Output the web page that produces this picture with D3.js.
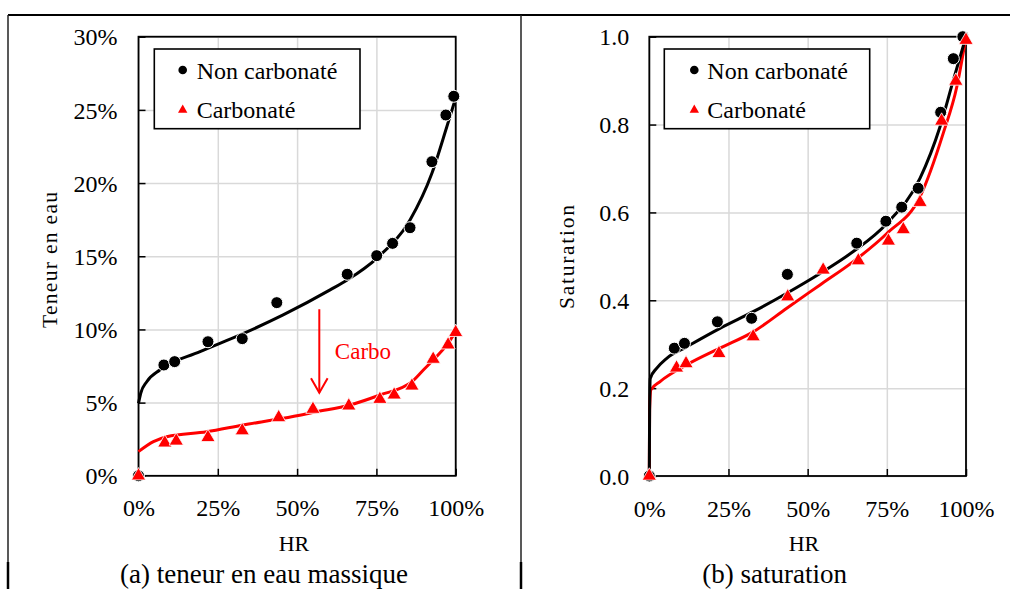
<!DOCTYPE html>
<html><head><meta charset="utf-8">
<script src="https://cdn.jsdelivr.net/npm/d3@7"></script>
<style>
body{margin:0;background:#fff}
svg{display:block}
text{font-family:"Liberation Serif","Times New Roman",serif;fill:#000}
</style>
</head><body>
<svg id="c" width="1016" height="589"></svg>
<script>
// ---------- data ----------
const seriesNames = ["Non carbonaté", "Carbonaté"];
const hrTicks = [0, 0.25, 0.5, 0.75, 1];
const wTicks = [0, 0.05, 0.10, 0.15, 0.20, 0.25, 0.30];
const sTicks = [0, 0.2, 0.4, 0.6, 0.8, 1.0];
const captions = ["(a) teneur en eau massique", "(b) saturation"];
const xTitle = "HR";
const yTitles = ["Teneur en eau", "Saturation"];
const annotText = "Carbo";

// (a) teneur en eau massique – measured points
const aNonHR = [0, 0.080, 0.114, 0.219, 0.327, 0.436, 0.658, 0.751, 0.801, 0.856, 0.925, 0.969, 0.994];
const aNonW  = [0, 0.0757, 0.078, 0.0916, 0.0937, 0.1183, 0.1377, 0.1504, 0.1588, 0.1695, 0.2146, 0.2465, 0.2593];
const aCarHR = [0, 0.083, 0.119, 0.219, 0.327, 0.442, 0.550, 0.663, 0.761, 0.806, 0.862, 0.929, 0.976, 1.0];
const aCarW  = [0, 0.0225, 0.0238, 0.0262, 0.0308, 0.0398, 0.0455, 0.0478, 0.0523, 0.0553, 0.0614, 0.0797, 0.0895, 0.098];
// (a) fitted curves
const aNonFitHR = [0, 0.007, 0.026, 0.067, 0.194, 0.320, 0.456, 0.604, 0.658, 0.751, 0.856, 0.925, 0.972, 0.998];
const aNonFitW  = [0.0495, 0.0564, 0.0643, 0.0723, 0.0848, 0.0962, 0.1099, 0.127, 0.1338, 0.1486, 0.1748, 0.2067, 0.2385, 0.2568];
const aCarFitHR = [0, 0.047, 0.089, 0.215, 0.330, 0.456, 0.562, 0.667, 0.761, 0.862, 0.898, 0.929, 0.972, 1.0];
const aCarFitW  = [0.0165, 0.0233, 0.0267, 0.0301, 0.0347, 0.0393, 0.0438, 0.0484, 0.0552, 0.0643, 0.0723, 0.0791, 0.0894, 0.0985];

// (b) saturation – measured points
const bNonHR = [0, 0.079, 0.111, 0.215, 0.323, 0.436, 0.655, 0.747, 0.797, 0.849, 0.920, 0.960, 0.990];
const bNonS  = [0, 0.291, 0.302, 0.351, 0.359, 0.459, 0.530, 0.580, 0.612, 0.655, 0.828, 0.950, 1.0];
const bCarHR = [0, 0.086, 0.116, 0.220, 0.328, 0.437, 0.549, 0.660, 0.755, 0.802, 0.855, 0.923, 0.968, 1.0];
const bCarS  = [0, 0.246, 0.256, 0.279, 0.317, 0.408, 0.469, 0.490, 0.535, 0.561, 0.623, 0.808, 0.899, 0.992];
// (b) fitted curves
const bNonFitHR = [0, 0.001, 0.003, 0.023, 0.055, 0.118, 0.223, 0.328, 0.434, 0.539, 0.644, 0.750, 0.855, 0.918, 0.960, 1.0];
const bNonFitS  = [0, 0.15, 0.222, 0.245, 0.268, 0.294, 0.336, 0.374, 0.416, 0.461, 0.511, 0.575, 0.678, 0.795, 0.901, 1.0];
const bCarFitHR = [0, 0.001, 0.005, 0.034, 0.118, 0.223, 0.328, 0.434, 0.539, 0.644, 0.750, 0.855, 0.928, 0.971, 1.0];
const bCarFitS  = [0, 0.15, 0.196, 0.215, 0.253, 0.291, 0.328, 0.382, 0.435, 0.488, 0.552, 0.636, 0.780, 0.886, 1.0];

// annotation arrow (data coords in panel a)
const arrowHR = 0.57, arrowFrom = 0.1138, arrowTo = 0.0568;
const annotHR = 0.619, annotW = 0.0796;

// ---------- drawing ----------
const svg = d3.select("#c");
const zip = (xs, ys) => xs.map((x, i) => [x, ys[i]]);
const RED = "#ff0000";

// outer frame (table cell lines)
const frame = svg.append("g");
frame.append("line").attr("x1", 8).attr("x2", 1010).attr("y1", 15).attr("y2", 15).attr("stroke", "#000").attr("stroke-width", 2);
[8, 521].forEach(x => {
  frame.append("line").attr("x1", x).attr("x2", x).attr("y1", 15).attr("y2", 562).attr("stroke", "#222").attr("stroke-width", 1.5);
  frame.append("line").attr("x1", x).attr("x2", x).attr("y1", 562).attr("y2", 589).attr("stroke", "#000").attr("stroke-width", 2.5);
});

function panel(cfg) {
  const g = svg.append("g");
  const x = d3.scaleLinear().domain([0, 1]).range(cfg.xr);
  const y = d3.scaleLinear().domain(cfg.ydom).range(cfg.yr);
  const w = cfg.xr[1] - cfg.xr[0], h = cfg.yr[0] - cfg.yr[1];

  // gridlines
  g.append("g").attr("transform", `translate(0,${cfg.yr[0]})`)
    .call(d3.axisBottom(x).tickValues(hrTicks).tickSize(-h).tickFormat(""))
    .call(s => { s.select(".domain").remove(); s.selectAll("line").attr("stroke", "#d9d9d9").attr("stroke-width", 1.5); });
  g.append("g").attr("transform", `translate(${cfg.xr[0]},0)`)
    .call(d3.axisLeft(y).tickValues(cfg.yticks).tickSize(-w).tickFormat(""))
    .call(s => { s.select(".domain").remove(); s.selectAll("line").attr("stroke", "#d9d9d9").attr("stroke-width", 1.5); });

  // plot border
  g.append("rect").attr("x", cfg.xr[0]).attr("y", cfg.yr[1]).attr("width", w).attr("height", h)
    .attr("fill", "none").attr("stroke", "#000").attr("stroke-width", 1.8);

  // axes with inward ticks
  const ax = g.append("g").attr("transform", `translate(0,${cfg.yr[0]})`)
    .call(d3.axisBottom(x).tickValues(hrTicks).tickSize(-7).tickPadding(23.5).tickFormat(d3.format(".0%")));
  ax.select(".domain").remove();
  ax.selectAll("line").attr("stroke", "#000").attr("stroke-width", 1.5);
  ax.selectAll("text").attr("font-size", 24).style("font-family", "Liberation Serif");
  const ay = g.append("g").attr("transform", `translate(${cfg.xr[0]},0)`)
    .call(d3.axisLeft(y).tickValues(cfg.yticks).tickSize(-7).tickPadding(cfg.ypad).tickFormat(cfg.yfmt));
  ay.select(".domain").remove();
  ay.selectAll("line").attr("stroke", "#000").attr("stroke-width", 1.5);
  ay.selectAll("text").attr("font-size", 24).attr("dy", "0.34em").style("font-family", "Liberation Serif");
  g.selectAll(".tick text").attr("fill", "#000");

  // fitted curves
  const line = d3.line().x(d => x(d[0])).y(d => y(d[1])).curve(d3.curveMonotoneX);
  g.append("path").datum(zip(cfg.carFit[0], cfg.carFit[1])).attr("d", line)
    .attr("fill", "none").attr("stroke", RED).attr("stroke-width", 3);
  g.append("path").datum(zip(cfg.nonFit[0], cfg.nonFit[1])).attr("d", line)
    .attr("fill", "none").attr("stroke", "#000").attr("stroke-width", 3);

  // markers
  g.append("g").selectAll("circle").data(zip(cfg.non[0], cfg.non[1])).join("circle")
    .attr("cx", d => x(d[0])).attr("cy", d => y(d[1])).attr("r", 6)
    .attr("fill", "#000").attr("stroke", "#fff").attr("stroke-width", 1);
  const tri = d3.symbol(d3.symbolTriangle).size(88);
  g.append("g").selectAll("path").data(zip(cfg.car[0], cfg.car[1])).join("path")
    .attr("d", tri).attr("transform", d => `translate(${x(d[0])},${y(d[1])})`)
    .attr("fill", RED).attr("stroke", "#fff").attr("stroke-width", 0.8);

  // legend
  const L = cfg.legend;
  g.append("rect").attr("x", L[0]).attr("y", 49).attr("width", L[1]).attr("height", 79.7)
    .attr("fill", "#fff").attr("stroke", "#000").attr("stroke-width", 1.6);
  g.append("circle").attr("cx", L[0] + L[2]).attr("cy", 70).attr("r", 4.3).attr("fill", "#000");
  g.append("path").attr("d", d3.symbol(d3.symbolTriangle).size(38)())
    .attr("transform", `translate(${L[0] + L[2]},${110})`).attr("fill", RED);
  g.append("text").attr("x", L[0] + L[3]).attr("y", 78.5).attr("font-size", 24).text(seriesNames[0]);
  g.append("text").attr("x", L[0] + L[3]).attr("y", 117.5).attr("font-size", 24).text(seriesNames[1]);

  // titles
  g.append("text").attr("x", cfg.xtitleX).attr("y", 551).attr("text-anchor", "middle")
    .attr("font-size", 22).text(xTitle);
  g.append("text").attr("transform", `translate(${cfg.ytitle[0]},${cfg.ytitle[1]}) rotate(-90)`)
    .attr("text-anchor", "middle").attr("font-size", 21.5)
    .attr("textLength", cfg.ytitle[2]).attr("lengthAdjust", "spacing").text(cfg.ytitleText);
  g.append("text").attr("x", cfg.capX).attr("y", 583).attr("text-anchor", "middle")
    .attr("font-size", 27).text(cfg.caption);

  return {g, x, y};
}

const A = panel({
  xr: [138.5, 455.7], yr: [475.8, 36.7], ydom: [0, 0.30], yticks: wTicks, ypad: 21,
  yfmt: d3.format(".0%"),
  non: [aNonHR, aNonW], car: [aCarHR, aCarW],
  nonFit: [aNonFitHR, aNonFitW], carFit: [aCarFitHR, aCarFitW],
  legend: [154.3, 205.7, 28.4, 42.4],
  xtitleX: 294, ytitle: [57, 260, 136], ytitleText: yTitles[0],
  capX: 264, caption: captions[0]
});
const B = panel({
  xr: [649.3, 966], yr: [476, 36.7], ydom: [0, 1], yticks: sTicks, ypad: 20,
  yfmt: d3.format(".1f"),
  non: [bNonHR, bNonS], car: [bCarHR, bCarS],
  nonFit: [bNonFitHR, bNonFitS], carFit: [bCarFitHR, bCarFitS],
  legend: [664.3, 205.4, 30, 43],
  xtitleX: 804, ytitle: [574, 257, 104], ytitleText: yTitles[1],
  capX: 774.7, caption: captions[1]
});

// annotation arrow in panel a
const ax0 = A.x(arrowHR), ay0 = A.y(arrowFrom), ay1 = A.y(arrowTo);
A.g.append("line").attr("x1", ax0).attr("x2", ax0).attr("y1", ay0).attr("y2", ay1)
  .attr("stroke", RED).attr("stroke-width", 2);
A.g.append("path").attr("d", `M${ax0 - 8.3},${ay1 - 14.4}L${ax0},${ay1}L${ax0 + 8.3},${ay1 - 14.4}`)
  .attr("fill", "none").attr("stroke", RED).attr("stroke-width", 2);
A.g.append("text").attr("x", A.x(annotHR)).attr("y", A.y(annotW)).attr("font-size", 23)
  .attr("fill", RED).style("fill", RED).text(annotText);
</script>
</body></html>
